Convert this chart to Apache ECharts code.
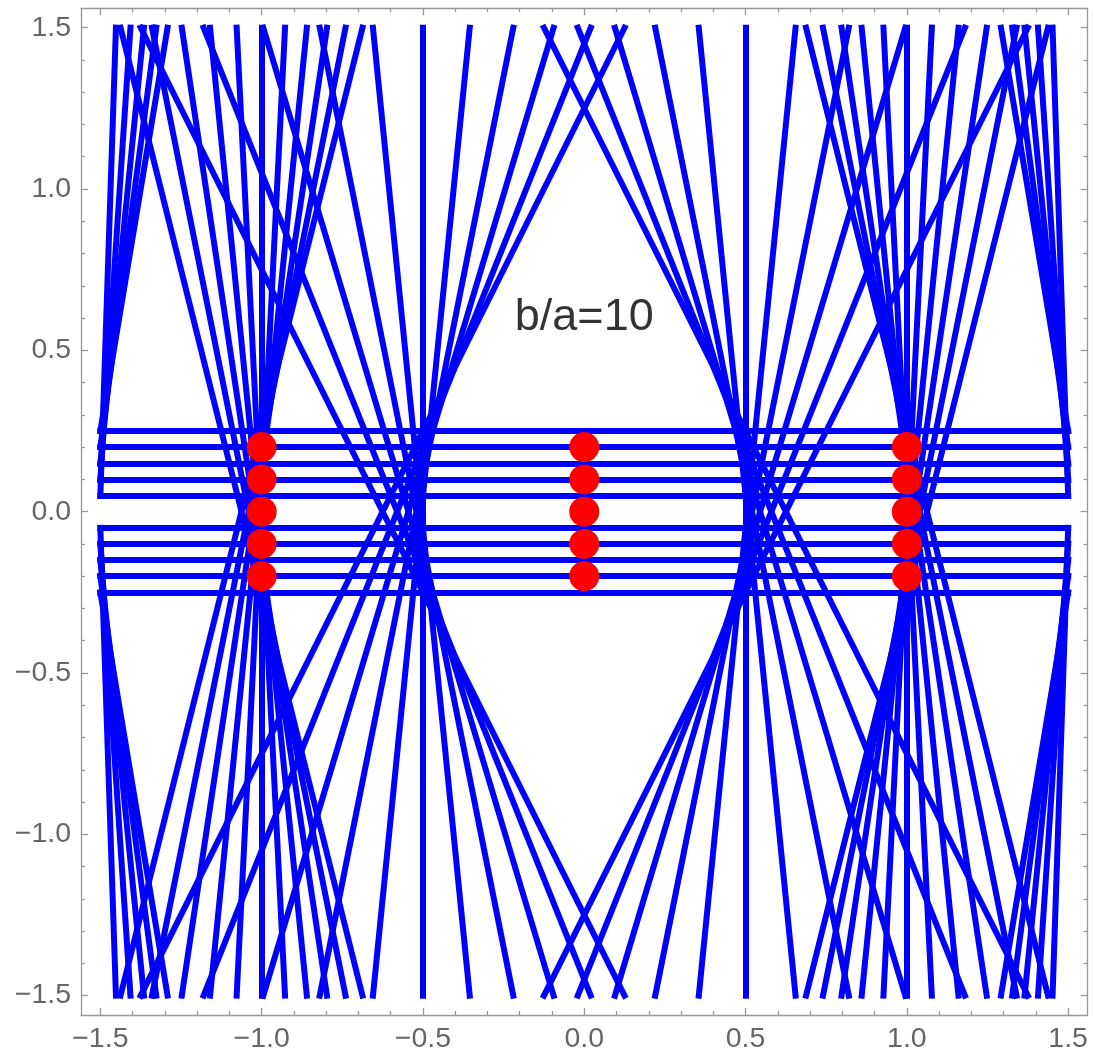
<!DOCTYPE html>
<html><head><meta charset="utf-8">
<script src="https://cdn.jsdelivr.net/npm/echarts@6/dist/echarts.min.js"></script>
<style>html,body{margin:0;padding:0;background:#fff}#c{width:1095px;height:1062px}</style>
</head><body><div id="c"></div>
<script>
// ---- tick values / labels ----
const majorTicks = [-1.5, -1, -0.5, 0, 0.5, 1, 1.5];
const tickLabels = ['\u22121.5', '\u22121.0', '\u22120.5', '0.0', '0.5', '1.0', '1.5'];
const minorTicks = [-1.4,-1.3,-1.2,-1.1,-0.9,-0.8,-0.7,-0.6,-0.4,-0.3,-0.2,-0.1,
                    0.1,0.2,0.3,0.4,0.6,0.7,0.8,0.9,1.1,1.2,1.3,1.4];
const plotMin = -1.5, plotMax = 1.5;

// ---- horizontal lines (full width) ----
const horizY = [0.25, 0.2, 0.15, 0.1, 0.05, -0.05, -0.1, -0.15, -0.2, -0.25];

// ---- full-height lines: x where they meet the top (y=1.5) and bottom (y=-1.5) ----
const fullTopX = [1.375,1.18,0.995,0.82,0.655,0.5,0.355,0.22,0.095,-0.02,-0.125,
  -1.375,-1.18,-0.995,-0.82,-0.655,-0.5,-0.355,-0.22,-0.095,0.02,0.125,
  1.4375,1.34,1.2475,1.16,1.0775,1,0.9275,0.86,0.7975,0.74,0.6875,
  -1.4375,-1.34,-1.2475,-1.16,-1.0775,-1,-0.9275,-0.86,-0.7975,-0.74,-0.6875];
const fullBottomX = [-0.125,-0.02,0.095,0.22,0.355,0.5,0.655,0.82,0.995,1.18,1.375,
  0.125,0.02,-0.095,-0.22,-0.355,-0.5,-0.655,-0.82,-0.995,-1.18,-1.375,
  0.6875,0.74,0.7975,0.86,0.9275,1,1.0775,1.16,1.2475,1.34,1.4375,
  -0.6875,-0.74,-0.7975,-0.86,-0.9275,-1,-1.0775,-1.16,-1.2475,-1.34,-1.4375];

// ---- edge lines: start on a side (x=±1.5), end on top/bottom ----
const edgeSideX = [1.5,1.5,1.5,1.5,1.5, 1.5,1.5,1.5,1.5,1.5,
                   -1.5,-1.5,-1.5,-1.5,-1.5, -1.5,-1.5,-1.5,-1.5,-1.5];
const edgeSideY = [0.05,0.1,0.15,0.2,0.25, -0.05,-0.1,-0.15,-0.2,-0.25,
                   0.05,0.1,0.15,0.2,0.25, -0.05,-0.1,-0.15,-0.2,-0.25];
const edgeEndX = [1.4517,1.4067,1.365,1.3267,1.2917, 1.4517,1.4067,1.365,1.3267,1.2917,
                  -1.4517,-1.4067,-1.365,-1.3267,-1.2917, -1.4517,-1.4067,-1.365,-1.3267,-1.2917];
const edgeEndY = [1.5,1.5,1.5,1.5,1.5, -1.5,-1.5,-1.5,-1.5,-1.5,
                  1.5,1.5,1.5,1.5,1.5, -1.5,-1.5,-1.5,-1.5,-1.5];

// ---- lattice points (red) ----
const dotX = [-1, 0, 1];
const dotY = [-0.2, -0.1, 0, 0.1, 0.2];

// ---- annotation ----
const noteText = 'b/a=10';
const noteX = 0, noteY = 0.6;

// ---- build data ----
const segs = [];
horizY.forEach(y => segs.push({ coords: [[plotMin, y], [plotMax, y]] }));
fullTopX.forEach((t, i) => segs.push({ coords: [[fullBottomX[i], plotMin], [t, plotMax]] }));
edgeSideX.forEach((sx, i) => segs.push({ coords: [[sx, edgeSideY[i]], [edgeEndX[i], edgeEndY[i]]] }));
const dots = [];
dotX.forEach(x => dotY.forEach(y => dots.push([x, y])));

const frameColor = '#999999';
const labelColor = '#666666';
const axMin = -1.56, axMax = 1.56;
const fmt = v => { const k = majorTicks.findIndex(t => Math.abs(t - v) < 1e-6); return k >= 0 ? tickLabels[k] : ''; };

function axis(pos, major, showLine, showLabel) {
  return {
    type: 'value', position: pos, min: axMin, max: axMax,
    axisLine: { show: showLine, onZero: false, lineStyle: { color: frameColor, width: 1.3 } },
    axisTick: { show: true, inside: true, length: major ? 7 : 4,
      customValues: major ? majorTicks : minorTicks,
      lineStyle: { color: frameColor, width: 1.3 } },
    axisLabel: { show: showLabel, customValues: majorTicks, formatter: fmt,
      fontSize: 28.5, color: labelColor, margin: 10, fontFamily: 'Liberation Sans, Arial, sans-serif' },
    splitLine: { show: false }, minorTick: { show: false }
  };
}

const chart = echarts.init(document.getElementById('c'), null, { renderer: 'canvas' });
chart.setOption({
  animation: false,
  backgroundColor: '#fff',
  grid: { left: 81, right: 7.5, top: 8.3, bottom: 47, containLabel: false },
  xAxis: [axis('bottom', true, true, true), axis('bottom', false, false, false),
          axis('top', true, true, false), axis('top', false, false, false)],
  yAxis: [axis('left', true, true, true), axis('left', false, false, false),
          axis('right', true, true, false), axis('right', false, false, false)],
  series: [
    { type: 'lines', coordinateSystem: 'cartesian2d', xAxisIndex: 0, yAxisIndex: 0,
      polyline: false, silent: true, z: 2,
      lineStyle: { color: '#0000ff', width: 6, opacity: 1, curveness: 0, cap: 'square' },
      data: segs },
    { type: 'scatter', xAxisIndex: 0, yAxisIndex: 0, symbol: 'circle', symbolSize: 30, z: 3,
      itemStyle: { color: '#ff0000', opacity: 1 }, data: dots },
    { type: 'scatter', xAxisIndex: 0, yAxisIndex: 0, symbolSize: 0, z: 4,
      data: [[noteX, noteY]],
      label: { show: true, position: 'inside', formatter: noteText, color: '#000000',
        textBorderWidth: 0, fontSize: 45, fontFamily: 'Liberation Sans, Arial, sans-serif',
        align: 'center', verticalAlign: 'middle' } }
  ]
});
</script></body></html>
